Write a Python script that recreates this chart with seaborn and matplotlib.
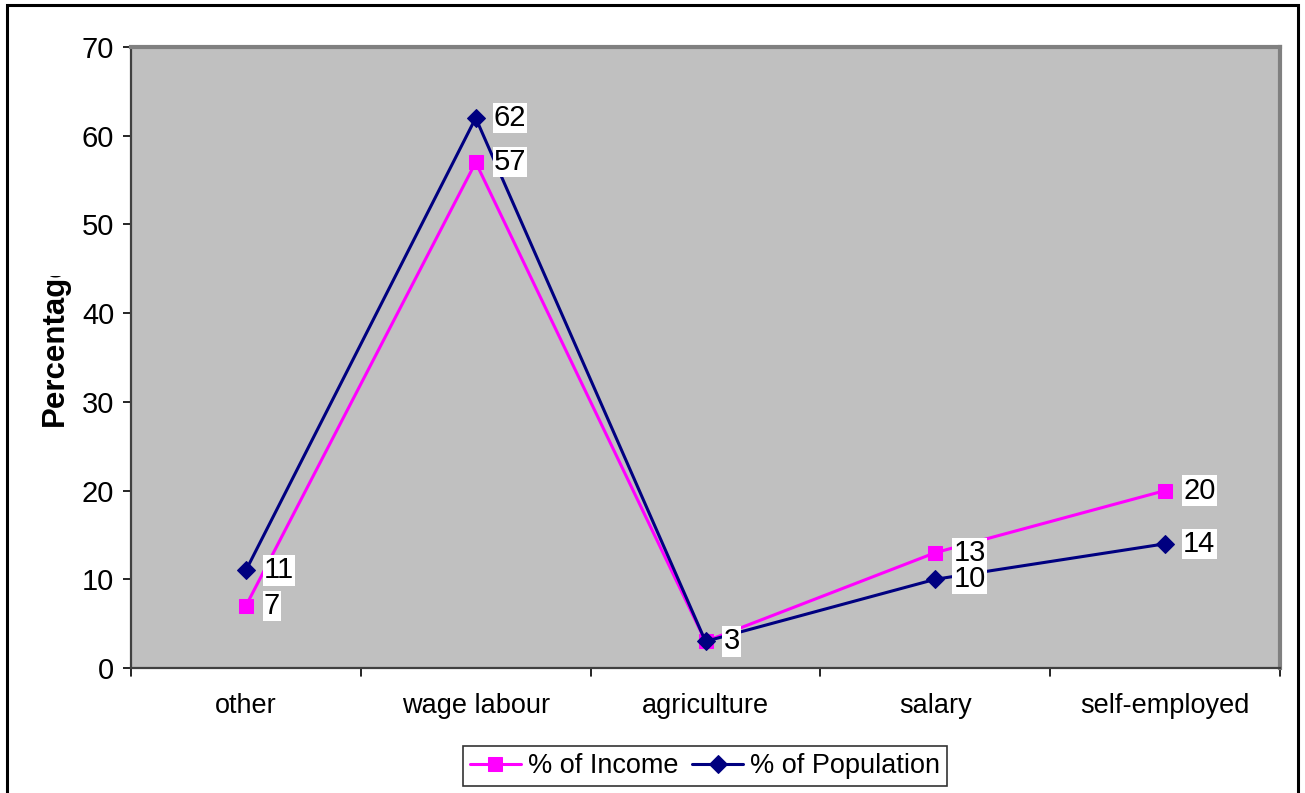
import matplotlib
matplotlib.use("Agg")
import matplotlib.pyplot as plt
from matplotlib.patches import Rectangle
from matplotlib.transforms import Bbox
import pandas as pd
import seaborn as sns

categories = ["other", "wage labour", "agriculture", "salary", "self-employed"]
income = [7, 57, 3, 13, 20]
population = [11, 62, 3, 10, 14]
series_names = ["% of Income", "% of Population"]
y_ticks = [0, 10, 20, 30, 40, 50, 60, 70]

df = pd.DataFrame({
    "category": categories * 2,
    "pos": list(range(len(categories))) * 2,
    "value": income + population,
    "series": [series_names[0]] * len(categories) + [series_names[1]] * len(categories),
})

sns.set_theme(style="white")
plt.rcParams["font.family"] = ["Liberation Sans", "DejaVu Sans"]
plt.rcParams["text.color"] = "black"
plt.rcParams["xtick.color"] = "black"
plt.rcParams["ytick.color"] = "black"

W, H = 1305, 793
fig = plt.figure(figsize=(W / 100, H / 100), dpi=100)
# plot area in pixels: left 131, right 1280, top 47, bottom 668
ax = fig.add_axes([131 / W, 1 - 668 / H, (1280 - 131) / W, (668 - 47) / H])
ax.set_facecolor("#C0C0C0")

palette = {series_names[0]: "#FF00FF", series_names[1]: "#000080"}
markers = {series_names[0]: "s", series_names[1]: "D"}
sizes = {series_names[0]: 10, series_names[1]: 9}

for name in series_names:
    sub = df[df["series"] == name]
    sns.lineplot(data=sub, x="pos", y="value", ax=ax, color=palette[name],
                 marker=markers[name], markersize=sizes[name], linewidth=2.2,
                 markeredgecolor=palette[name], label=name, legend=False)
    for x, v in zip(sub["pos"], sub["value"]):
        ax.annotate(str(v), (x, v), xytext=(13, 0), textcoords="offset points",
                    ha="left", va="center", fontsize=21, color="black",
                    bbox=dict(boxstyle="square,pad=0.04", fc="white", ec="none"))

ax.set_xlim(-0.5, len(categories) - 0.5)
ax.set_ylim(0, 70)
ax.set_yticks(y_ticks)
ax.set_yticklabels([str(t) for t in y_ticks], fontsize=21)
ax.set_xticks(range(len(categories)))
ax.set_xticklabels(categories, fontsize=19.5)
ax.tick_params(axis="x", length=0, pad=18)
ax.tick_params(axis="y", length=6, width=1.2, direction="out", left=True, pad=6)
# category boundary ticks below the axis
for b in [x - 0.5 for x in range(len(categories) + 1)]:
    ax.plot([b, b], [0, -0.9], color="black", lw=1.2, clip_on=False)

ax.set_xlabel("")
ax.set_ylabel("")
for side in ["top", "right"]:
    ax.spines[side].set_color("#808080")
    ax.spines[side].set_linewidth(3)
for side in ["left", "bottom"]:
    ax.spines[side].set_color("#404040")
    ax.spines[side].set_linewidth(1.6)

# rotated axis title, cut off at the top by the chart frame
lbl = fig.text(55 / W, 1 - 426 / H, "Percentage", rotation=90, fontsize=22.5,
               fontweight="bold", ha="center", va="bottom")
lbl.set_clip_box(Bbox([[0, 0], [W, H - 276]]))
lbl.set_clip_on(True)

handles, labels = ax.get_legend_handles_labels()
leg = fig.legend(handles, labels, loc="center", bbox_to_anchor=(705 / W, 1 - 766 / H),
                 ncol=2, fontsize=19.5, frameon=True, fancybox=False, edgecolor="black",
                 handlelength=1.9, handletextpad=0.25, columnspacing=0.5,
                 borderpad=0.25, borderaxespad=0)
leg.get_frame().set_linewidth(1.2)

# outer chart frame
fig.patches.append(Rectangle((7 / W, -0.01), (1298 - 7) / W, 1 - 5 / H + 0.01,
                             transform=fig.transFigure, fill=False, ec="black", lw=2.2))

fig.savefig("out.png", dpi=100)
